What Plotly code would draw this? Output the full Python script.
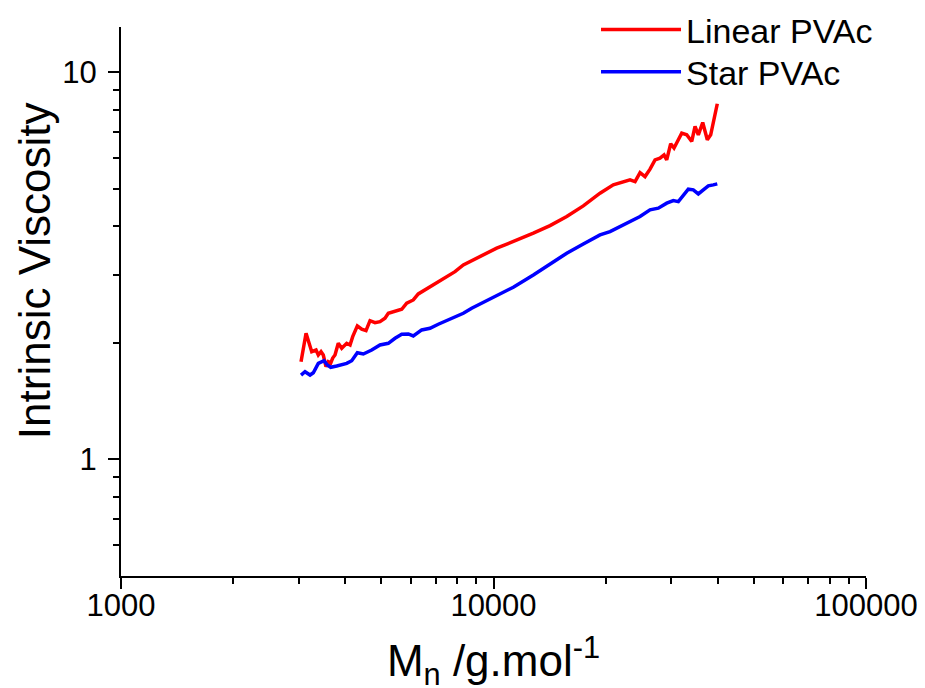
import plotly.graph_objects as go

# Linear PVAc
linear_mn = [3043, 3139, 3251, 3339, 3386, 3443, 3492, 3550, 3601, 3656, 3701, 3754,
             3831, 3913, 4036, 4120, 4188, 4310, 4428, 4547, 4661, 4807, 4958, 5113,
             5219, 5441, 5671, 5848, 6091, 6282, 6548, 6754, 7108, 7487, 7882, 8298,
             8738, 9200, 9685, 10200, 10737, 11304, 12793, 14182, 15725, 17420, 19318,
             20971, 22314, 23258, 23988, 24740, 25514, 26315, 27143, 27990, 28696,
             29174, 29903, 30522, 31347, 32015, 33018, 34053, 34760, 35471, 36447,
             37497, 38291, 39319, 39883]
linear_iv = [1.787, 2.116, 1.897, 1.916, 1.860, 1.897, 1.860, 1.735, 1.787, 1.773, 1.827,
             1.860, 1.994, 1.936, 1.994, 1.974, 2.074, 2.211, 2.168, 2.150, 2.281, 2.254,
             2.268, 2.314, 2.384, 2.407, 2.441, 2.530, 2.580, 2.674, 2.739, 2.793, 2.877,
             2.964, 3.053, 3.178, 3.260, 3.353, 3.439, 3.510, 3.579, 3.650, 3.837, 4.014,
             4.236, 4.513, 4.867, 5.114, 5.215, 5.268, 5.215, 5.502, 5.372, 5.615, 5.934,
             5.995, 6.113, 5.934, 6.528, 6.364, 6.686, 6.957, 6.887, 6.618, 7.235, 6.887,
             7.410, 6.686, 6.887, 7.837, 8.282]

# Star PVAc
star_mn = [3043, 3119, 3217, 3283, 3386, 3508, 3579, 3656, 3794, 4036, 4163, 4310,
           4472, 4710, 4958, 5219, 5441, 5671, 5906, 6091, 6416, 6754, 7108, 7487,
           7882, 8298, 8738, 9200, 9685, 10200, 10737, 11304, 12793, 14182, 15725,
           17420, 19318, 20550, 22314, 24740, 26315, 27700, 29174, 30390, 31347,
           32334, 33343, 34389, 35471, 36580, 37730, 38905, 39883]
star_iv = [1.651, 1.684, 1.651, 1.674, 1.770, 1.798, 1.752, 1.729, 1.742, 1.770, 1.798,
           1.885, 1.871, 1.916, 1.974, 1.994, 2.054, 2.104, 2.108, 2.083, 2.159, 2.181,
           2.233, 2.281, 2.328, 2.384, 2.456, 2.519, 2.580, 2.647, 2.711, 2.783, 2.994,
           3.196, 3.407, 3.600, 3.798, 3.873, 4.031, 4.236, 4.407, 4.452, 4.586, 4.657,
           4.629, 4.818, 4.985, 4.965, 4.847, 4.965, 5.084, 5.114, 5.145]

x_major = [1000, 10000, 100000]
x_major_text = ["1000", "10000", "100000"]
x_minor = [2000, 3000, 4000, 5000, 6000, 7000, 8000, 9000,
           20000, 30000, 40000, 50000, 60000, 70000, 80000, 90000]
y_major = [1, 10]
y_major_text = ["1", "10"]
y_minor = [0.6, 0.7, 0.8, 0.9, 2, 3, 4, 5, 6, 7, 8, 9]

FONT = "Liberation Sans, Arial, sans-serif"

fig = go.Figure()
fig.add_trace(go.Scatter(x=linear_mn, y=linear_iv, mode="lines", name="Linear PVAc",
                         legend="legend",
                         line=dict(color="#ff0000", width=3.5)))
fig.add_trace(go.Scatter(x=star_mn, y=star_iv, mode="lines", name="Star PVAc",
                         legend="legend2",
                         line=dict(color="#0000ff", width=3.5)))

legend_common = dict(xref="paper", yref="paper", x=0.6376,
                     xanchor="left", yanchor="top",
                     font=dict(size=34, family=FONT, color="black"),
                     bgcolor="rgba(0,0,0,0)", itemwidth=80)

fig.update_layout(
    width=925, height=688,
    margin=dict(l=113, r=67, t=19, b=120, autoexpand=False),
    paper_bgcolor="white", plot_bgcolor="white",
    font=dict(family=FONT, color="black"),
    showlegend=True,
    legend=dict(y=1.0477, **legend_common),
    legend2=dict(y=0.9705, **legend_common),
    xaxis=dict(type="log", range=[3, 5], showgrid=False, zeroline=False,
               automargin=False,
               showline=True, linecolor="black", linewidth=2,
               ticks="outside", ticklen=11, tickwidth=1.5, tickcolor="black",
               tickvals=x_major, ticktext=x_major_text, ticklabelstandoff=-10,
               tickfont=dict(size=31, family=FONT, color="black"),
               minor=dict(tickvals=x_minor, ticks="outside", ticklen=6,
                          tickwidth=1.5, tickcolor="black", showgrid=False),
               title=dict(text="M<sub>n</sub> /g.mol<sup>-1</sup>",
                          font=dict(size=44, family=FONT, color="black"), standoff=23)),
    yaxis=dict(type="log", range=[-0.30103, 1.1163], showgrid=False, zeroline=False,
               automargin=False,
               showline=True, linecolor="black", linewidth=2,
               ticks="outside", ticklen=11, tickwidth=1.5, tickcolor="black",
               tickvals=y_major, ticktext=y_major_text, ticklabelstandoff=5,
               tickfont=dict(size=31, family=FONT, color="black"),
               minor=dict(tickvals=y_minor, ticks="outside", ticklen=6,
                          tickwidth=1.5, tickcolor="black", showgrid=False)),
    annotations=[dict(text="Intrinsic Viscosity", textangle=-90,
                      xref="paper", yref="paper", x=-0.1168, y=0.557,
                      xanchor="center", yanchor="middle", showarrow=False,
                      font=dict(size=44, family=FONT, color="black"))],
)

fig.write_html("out.html")
